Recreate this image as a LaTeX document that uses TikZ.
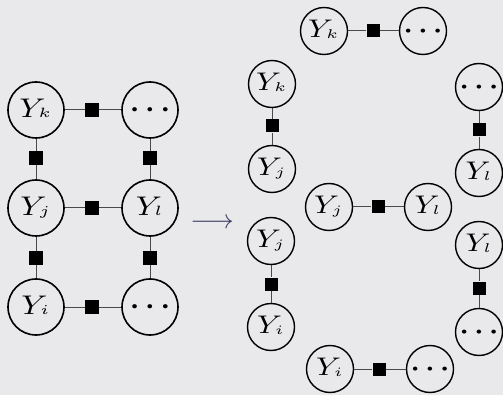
\documentclass[tikz,border=0pt]{standalone}
\usepackage{graphicx}
\definecolor{bgc}{HTML}{E9E9EB}
\definecolor{edgec}{HTML}{4A4A4A}
\definecolor{arrc}{HTML}{3C3C64}
\newcommand{\lbL}[1]{\scalebox{3.25}[2.7]{$#1$}}
\newcommand{\lbR}[1]{\scalebox{3.1}[2.55]{$#1$}}
\newcommand{\dtL}{\scalebox{3.0}[2.7]{\boldmath$\cdots$}}
\newcommand{\dtR}{\scalebox{2.9}[2.55]{\boldmath$\cdots$}}
\newcommand{\ssub}[1]{_{\raisebox{1.3pt}{$\scriptscriptstyle #1$}}}
\tikzset{
  varL/.style={circle,draw=black,line width=1.6pt,minimum size=56pt,inner sep=0pt},
  varR/.style={circle,draw=black,line width=1.4pt,minimum size=47pt,inner sep=0pt},
  facL/.style={rectangle,fill=black,minimum size=14pt,inner sep=0pt},
  facR/.style={rectangle,fill=black,minimum size=13pt,inner sep=0pt},
  edge/.style={draw=edgec,line width=1pt}
}
\begin{document}
\begin{tikzpicture}[x=1pt,y=-1pt]
\fill[bgc] (0,0) rectangle (503,395);
\useasboundingbox (0,0) rectangle (503,395);
% left grid
\node[varL] (lk) at (36,110) {\lbL{Y\ssub{k}}};
\node[varL] (lr1) at (150,110) {\dtL};
\node[varL] (lj) at (36,208) {\lbL{Y\ssub{j}}};
\node[varL] (ll) at (150,208) {\lbL{Y\ssub{l}}};
\node[varL] (li) at (36,307) {\lbL{Y\ssub{i}}};
\node[varL] (lr3) at (150,307) {\dtL};
\node[facL] (f1) at (92,110) {};
\node[facL] (f2) at (92,208) {};
\node[facL] (f3) at (92,307) {};
\node[facL] (f4) at (36,158) {};
\node[facL] (f5) at (36,258) {};
\node[facL] (f6) at (150,158) {};
\node[facL] (f7) at (150,258) {};
\draw[edge] (lk) -- (f1) -- (lr1);
\draw[edge] (lj) -- (f2) -- (ll);
\draw[edge] (li) -- (f3) -- (lr3);
\draw[edge] (lk) -- (f4) -- (lj);
\draw[edge] (lj) -- (f5) -- (li);
\draw[edge] (lr1) -- (f6) -- (ll);
\draw[edge] (ll) -- (f7) -- (lr3);
% arrow
\node[text=arrc,inner sep=0pt] (arr) at (212,224) {\scalebox{2.7}{$\longrightarrow$}};
% right: top pair
\node[varR] (a1) at (324,31) {\lbR{Y\ssub{k}}};
\node[varR] (a2) at (423,31) {\dtR};
\node[facR] (af) at (373,31) {};
\draw[edge] (a1) -- (af) -- (a2);
% left vertical upper
\node[varR] (b1) at (272,84) {\lbR{Y\ssub{k}}};
\node[varR] (b2) at (272,169) {\lbR{Y\ssub{j}}};
\node[facR] (bf) at (272,126) {};
\draw[edge] (b1) -- (bf) -- (b2);
% right vertical upper
\node[varR] (c1) at (479,87) {\dtR};
\node[varR] (c2) at (479,173) {\lbR{Y\ssub{l}}};
\node[facR] (cf) at (479,130) {};
\draw[edge] (c1) -- (cf) -- (c2);
% middle pair
\node[varR] (d1) at (329,207) {\lbR{Y\ssub{j}}};
\node[varR] (d2) at (428,207) {\lbR{Y\ssub{l}}};
\node[facR] (df) at (378,207) {};
\draw[edge] (d1) -- (df) -- (d2);
% left vertical lower
\node[varR] (e1) at (271,241) {\lbR{Y\ssub{j}}};
\node[varR] (e2) at (271,327) {\lbR{Y\ssub{i}}};
\node[facR] (ef) at (271,284) {};
\draw[edge] (e1) -- (ef) -- (e2);
% right vertical lower
\node[varR] (g1) at (479,245) {\lbR{Y\ssub{l}}};
\node[varR] (g2) at (479,332) {\dtR};
\node[facR] (gf) at (479,288) {};
\draw[edge] (g1) -- (gf) -- (g2);
% bottom pair
\node[varR] (h1) at (330,369) {\lbR{Y\ssub{i}}};
\node[varR] (h2) at (430,369) {\dtR};
\node[facR] (hf) at (379,369) {};
\draw[edge] (h1) -- (hf) -- (h2);
\end{tikzpicture}
\end{document}
